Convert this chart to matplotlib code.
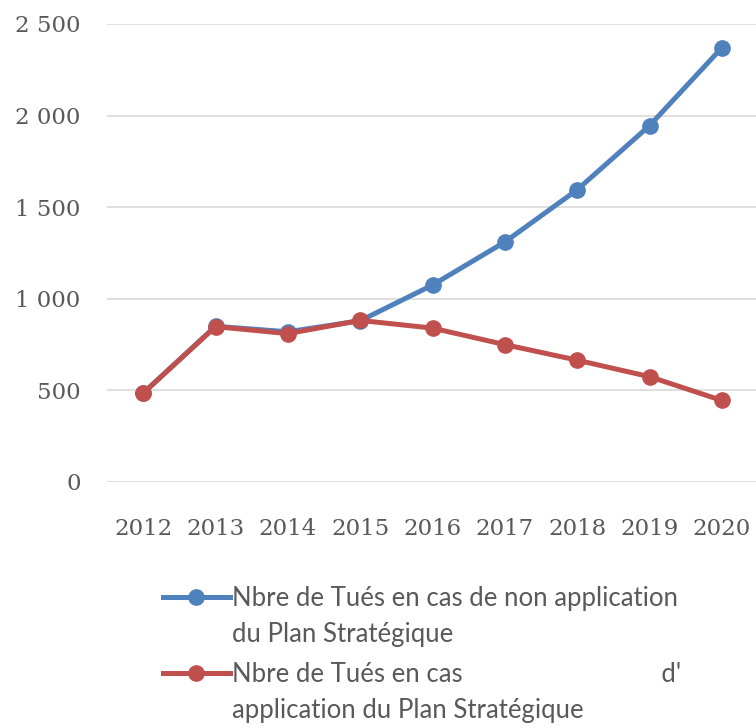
import matplotlib.pyplot as plt
from matplotlib.ticker import FuncFormatter

# Données
annees = ['2012', '2013', '2014', '2015', '2016', '2017', '2018', '2019', '2020']
tues_sans_plan = [485, 850, 820, 880, 1075, 1310, 1595, 1945, 2370]
tues_avec_plan = [485, 848, 810, 882, 840, 750, 665, 575, 445]
label_sans = ["Nbre de Tués en cas de non application", "du Plan Stratégique"]
label_avec = ["Nbre de Tués en cas                              d'", "application du Plan Stratégique"]

bleu = '#4F81BD'
rouge = '#C0504D'
gris = '#595959'
police_legende = ['Lato', 'DejaVu Sans']

fig = plt.figure(figsize=(7.56, 7.28), dpi=100)
ax = fig.add_axes([107 / 756, 1 - 482 / 728, 651 / 756, 458 / 728])

x = range(len(annees))
ax.plot(x, tues_sans_plan, color=bleu, lw=3.6, marker='o', ms=11, label=label_sans[0])
ax.plot(x, tues_avec_plan, color=rouge, lw=3.6, marker='o', ms=11, label=label_avec[0])

ax.set_xlim(-0.5, len(annees) - 0.5)
ax.set_ylim(0, 2500)
ax.set_yticks(range(0, 2501, 500))
ax.yaxis.set_major_formatter(FuncFormatter(lambda v, p: f'{int(v):,}'.replace(',', ' ')))
ax.set_xticks(list(x))
ax.set_xticklabels(annees)

ax.grid(axis='y', color='#D9D9D9', lw=1.2)
ax.set_axisbelow(True)
for s in ax.spines.values():
    s.set_visible(False)
ax.tick_params(length=0, colors=gris, labelsize=16.5)
ax.tick_params(axis='y', pad=19)
ax.tick_params(axis='x', pad=26)
for t in ax.get_xticklabels() + ax.get_yticklabels():
    t.set_fontfamily('DejaVu Serif')

# Légende : première ligne dans la légende, deuxième ligne en texte dessous
leg = fig.legend(loc='upper left', bbox_to_anchor=(163 / 756, 1 - 586 / 728),
                 frameon=False, handlelength=2.6, handletextpad=0.1,
                 labelspacing=2.0, borderaxespad=0, borderpad=0,
                 prop={'family': police_legende, 'size': 18.5})
for t in leg.get_texts():
    t.set_color(gris)

fig.canvas.draw()
inv = fig.transFigure.inverted()
for t, suite in zip(leg.get_texts(), [label_sans[1], label_avec[1]]):
    bb = t.get_window_extent()
    x0, y0 = inv.transform((bb.x0, bb.y0))
    fig.text(x0, y0 - 11 / 728, suite, color=gris, fontsize=18.5,
             family=police_legende, va='top', ha='left')

fig.savefig('out.png', dpi=100)
